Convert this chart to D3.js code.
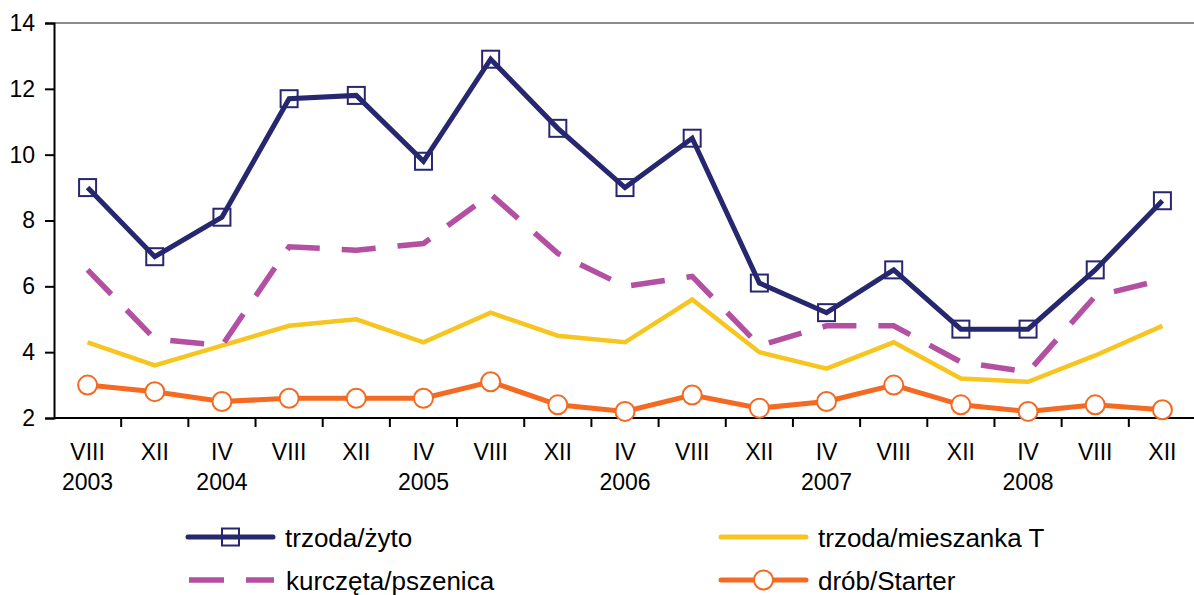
<!DOCTYPE html>
<html><head><meta charset="utf-8">
<script src="https://cdn.jsdelivr.net/npm/d3@7/dist/d3.min.js"></script>
<style>body{margin:0;background:#fff}svg{display:block;font-family:"Liberation Sans",Arial,sans-serif}</style>
</head><body><svg id="c" width="1194" height="595"></svg>
<script>
const months = ["VIII","XII","IV","VIII","XII","IV","VIII","XII","IV","VIII","XII","IV","VIII","XII","IV","VIII","XII"];
const years  = ["2003","","2004","","","2005","","","2006","","","2007","","","2008","",""];
const zyto      = [9.0,6.9,8.1,11.7,11.8,9.8,12.9,10.8,9.0,10.5,6.1,5.2,6.5,4.7,4.7,6.5,8.6];
const pszenica  = [6.5,4.4,4.2,7.2,7.1,7.3,8.8,7.0,6.0,6.3,4.2,4.8,4.8,3.7,3.4,5.7,6.2];
const mieszanka = [4.3,3.6,4.2,4.8,5.0,4.3,5.2,4.5,4.3,5.6,4.0,3.5,4.3,3.2,3.1,3.9,4.8];
const starter   = [3.0,2.8,2.5,2.6,2.6,2.6,3.1,2.4,2.2,2.7,2.3,2.5,3.0,2.4,2.2,2.4,2.25];
const yTicks = [2,4,6,8,10,12,14];
const seriesNames = ["trzoda/żyto","kurczęta/pszenica","trzoda/mieszanka T","drób/Starter"];

const svg = d3.select("#c");
const L=54, R=1196, T=23, B=418;
const idx = d3.range(months.length);
const x = d3.scaleBand().domain(idx).range([L,R]).padding(0);
const cx = i => x(i)+x.bandwidth()/2;
const y = d3.scaleLinear().domain([2,14]).range([B,T]);

// top border
svg.append("line").attr("x1",L).attr("x2",1194).attr("y1",T).attr("y2",T).attr("stroke","#8c8c8c").attr("stroke-width",2);

// y axis
const ya = svg.append("g").attr("transform",`translate(${L},0)`).call(d3.axisLeft(y).tickValues(yTicks).tickSize(9).tickPadding(10).tickFormat(d3.format("d")));
ya.select(".domain").attr("stroke","#000").attr("stroke-width",2);
ya.selectAll(".tick line").attr("stroke","#000").attr("stroke-width",2);
ya.selectAll("text").attr("font-size",23).attr("fill","#000").attr("font-family","Liberation Sans, Arial, sans-serif");

// x axis
const xa = svg.append("g").attr("transform",`translate(0,${B})`);
xa.append("line").attr("x1",L).attr("x2",1194).attr("stroke","#000").attr("stroke-width",2);
xa.selectAll(".tk").data(idx.slice(1)).join("line").attr("class","tk")
  .attr("x1",d=>x(d)).attr("x2",d=>x(d)).attr("y1",0).attr("y2",9).attr("stroke","#000").attr("stroke-width",2);
xa.selectAll(".m").data(idx).join("text").attr("class","m")
  .attr("x",d=>cx(d)).attr("y",42).attr("text-anchor","middle").attr("font-size",23).text(d=>months[d]);
xa.selectAll(".yr").data(idx.filter(i=>years[i])).join("text").attr("class","yr")
  .attr("x",d=>cx(d)).attr("y",72).attr("text-anchor","middle").attr("font-size",23).text(d=>years[d]);

const line = d3.line().x((d,i)=>cx(i)).y(d=>y(d));
const C = {navy:"#272770", mag:"#B350A2", yel:"#F7C520", ora:"#F46A22"};

svg.append("path").datum(mieszanka).attr("d",line).attr("fill","none").attr("stroke",C.yel).attr("stroke-width",4.5);
svg.append("path").datum(pszenica).attr("d",line).attr("fill","none").attr("stroke",C.mag).attr("stroke-width",5.5).attr("stroke-dasharray","34,22");
svg.append("path").datum(starter).attr("d",line).attr("fill","none").attr("stroke",C.ora).attr("stroke-width",5);
svg.selectAll(".circ").data(starter).join("circle").attr("class","circ")
  .attr("cx",(d,i)=>cx(i)).attr("cy",d=>y(d)).attr("r",9.5).attr("fill","#fff").attr("stroke",C.ora).attr("stroke-width",2);
svg.append("path").datum(zyto).attr("d",line).attr("fill","none").attr("stroke",C.navy).attr("stroke-width",5);
svg.selectAll(".sq").data(zyto).join("rect").attr("class","sq")
  .attr("x",(d,i)=>cx(i)-8.5).attr("y",d=>y(d)-8.5).attr("width",17).attr("height",17).attr("fill","none").attr("stroke",C.navy).attr("stroke-width",2);

// legend
const lg = svg.append("g");
function item(x0,yy,name,col,type){
  const g = lg.append("g");
  g.append("line").attr("x1",x0).attr("x2",x0+85).attr("y1",yy).attr("y2",yy).attr("stroke",col)
   .attr("stroke-width",type==="dash"?5.5:5).attr("stroke-linecap",type==="dash"?"butt":"round")
   .attr("stroke-dasharray",type==="dash"?"35,22":null);
  if(type==="sq") g.append("rect").attr("x",x0+42.5-8.5).attr("y",yy-8.5).attr("width",17).attr("height",17).attr("fill","none").attr("stroke",col).attr("stroke-width",2);
  if(type==="circ") g.append("circle").attr("cx",x0+42.5).attr("cy",yy).attr("r",9.5).attr("fill","#fff").attr("stroke",col).attr("stroke-width",2);
  g.append("text").attr("x",x0+97).attr("y",yy+10).attr("font-size",26).text(name);
}
item(188,537,seriesNames[0],C.navy,"sq");
item(189,580,seriesNames[1],C.mag,"dash");
item(721,537,seriesNames[2],C.yel,"line");
item(721,580,seriesNames[3],C.ora,"circ");
</script></body></html>
